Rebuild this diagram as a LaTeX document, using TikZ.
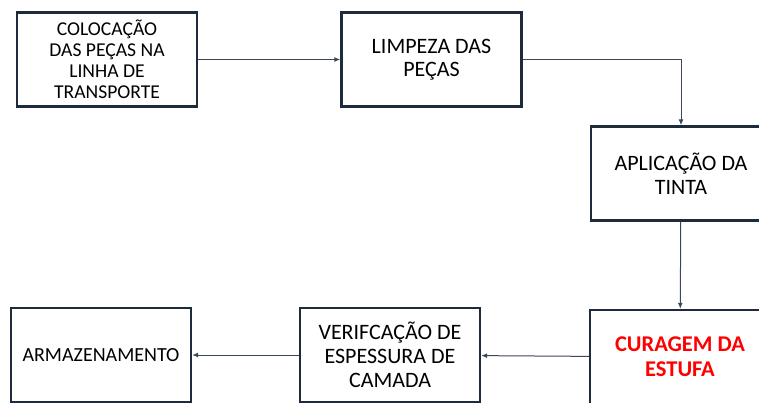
\documentclass[tikz,border=0pt]{standalone}
\usepackage{fontspec}
\setmainfont{Carlito}
\usetikzlibrary{arrows.meta}
\definecolor{boxline}{HTML}{1E2B3C}
\definecolor{arrowline}{HTML}{3A4759}
\tikzset{
  etapa/.style={draw=boxline,line width=2.4pt,minimum width=180pt,minimum height=94pt,
    align=center,text=black,font=\fontsize{22}{23.5}\selectfont,inner sep=2pt},
  seta/.style={draw=arrowline,line width=1pt,-{Latex[length=6pt,width=5pt]}}
}
\begin{document}
\begin{tikzpicture}[x=1pt,y=-1pt]
\useasboundingbox[clip] (0,0) rectangle (759,403);
\node[etapa,font=\fontsize{19.6}{21}\selectfont] (colocacao) at (107,59.5) {COLOCAÇÃO\\DAS PEÇAS NA\\LINHA DE\\TRANSPORTE};
\node[etapa] (limpeza) at (431.5,59.5) {LIMPEZA DAS\\PEÇAS};
\node[etapa] (aplicacao) at (681,173.5) {APLICAÇÃO DA\\TINTA};
\node[etapa,text=red,font=\fontsize{22.5}{25}\selectfont\bfseries] (curagem) at (680,357) {CURAGEM DA\\ESTUFA};
\node[etapa,font=\fontsize{22}{24}\selectfont] (verificacao) at (390,355) {VERIFCAÇÃO DE\\ESPESSURA DE\\CAMADA};
\node[etapa,font=\fontsize{20}{21}\selectfont] (armazenamento) at (101,355) {ARMAZENAMENTO};
\draw[seta] (colocacao) -- (limpeza);
\draw[seta] (limpeza.east) -| (aplicacao.north);
\draw[seta] (aplicacao) -- (curagem);
\draw[seta] (curagem) -- (verificacao);
\draw[seta] (verificacao) -- (armazenamento);
\end{tikzpicture}
\end{document}
